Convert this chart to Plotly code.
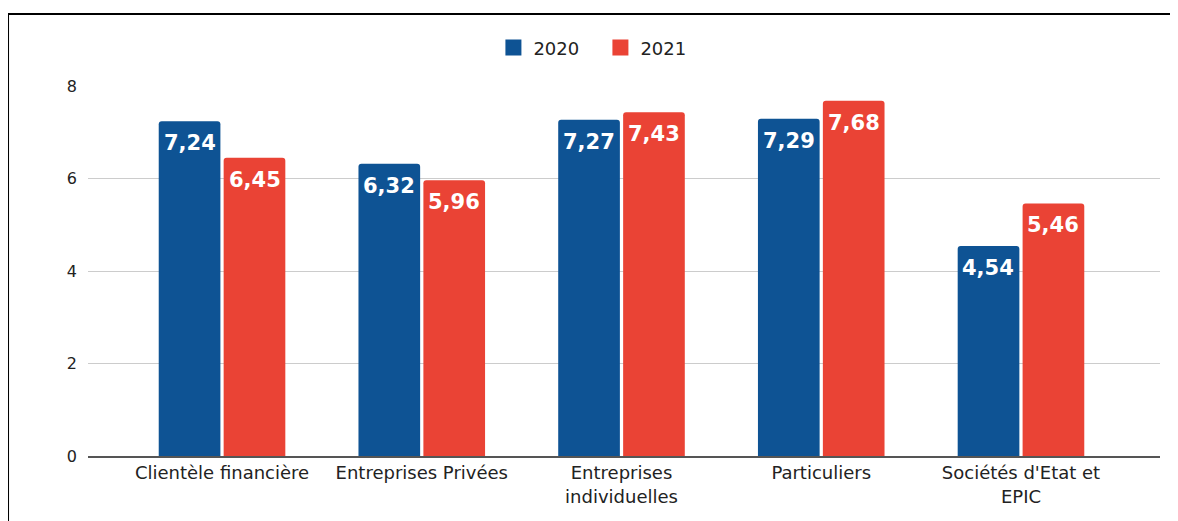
import plotly.graph_objects as go

categories = ["Clientèle financière", "Entreprises Privées", "Entreprises<br>individuelles",
              "Particuliers", "Sociétés d'Etat et<br>EPIC"]
values_2020 = [7.24, 6.32, 7.27, 7.29, 4.54]
values_2021 = [6.45, 5.96, 7.43, 7.68, 5.46]
series_names = ["2020", "2021"]
y_ticks = [0, 2, 4, 6, 8]

colors = ["#0E5394", "#EA4335"]

fig = go.Figure()
for name, vals, col in zip(series_names, [values_2020, values_2021], colors):
    fig.add_trace(go.Bar(
        x=categories, y=vals, name=name, showlegend=False,
        marker=dict(color=col, cornerradius=3, line=dict(width=0)),
    ))
    # legend entry with a bigger square
    fig.add_trace(go.Scatter(
        x=[None], y=[None], mode="markers", name=name,
        marker=dict(symbol="square", size=21, color=col),
    ))

# value labels at the top inside each bar
for shift, vals in zip([-32.5, 32.5], [values_2020, values_2021]):
    for c, v in zip(categories, vals):
        fig.add_annotation(
            x=c, y=v, xshift=shift, yshift=-8, yanchor="top",
            text=f"{v:.2f}".replace(".", ","), showarrow=False,
            font=dict(family="DejaVu Sans", size=21, color="white", weight="bold"),
        )

# black frame on the left and top
fig.add_shape(type="path", xref="paper", yref="paper",
              path="M -0.0746,-0.3 L -0.0746,1.1946 L 1.1,1.1946",
              line=dict(color="black", width=2))

fig.update_layout(
    width=1170, height=513,
    margin=dict(l=80, r=18, t=78, b=65),
    paper_bgcolor="white", plot_bgcolor="white",
    barmode="group", bargap=0.35, bargroupgap=0.05,
    font=dict(family="DejaVu Sans", size=18, color="#222"),
    legend=dict(orientation="h", x=0.478, xanchor="center", y=1.103, yanchor="middle",
                font=dict(size=18), itemwidth=30, entrywidth=62),
)
fig.update_xaxes(range=[-0.671, 4.696], showline=True, linecolor="#555", linewidth=1.5,
                 ticks="", showgrid=False, tickfont=dict(size=18))
fig.update_yaxes(range=[0, 8], tickvals=y_ticks, showgrid=True, gridcolor="#ccc",
                 zeroline=False, ticks="", ticklabelstandoff=10, tickfont=dict(size=16))

fig.write_html("out.html")
